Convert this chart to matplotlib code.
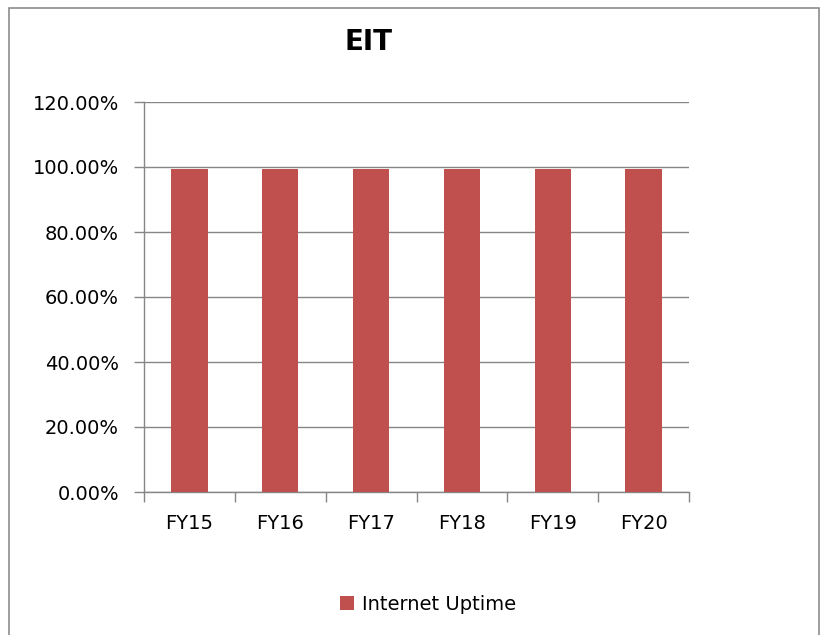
import matplotlib
matplotlib.use("Agg")
import matplotlib.pyplot as plt
from matplotlib.patches import Rectangle
from matplotlib.ticker import FixedLocator, PercentFormatter

categories = ["FY15", "FY16", "FY17", "FY18", "FY19", "FY20"]
uptime = [0.995, 0.995, 0.995, 0.995, 0.995, 0.995]
series_name = "Internet Uptime"
title = "EIT"

plt.rcParams["font.family"] = ["DejaVu Sans"]

bar_color = "#C0504D"
grid_color = "#868686"

fig = plt.figure(figsize=(8.22, 6.35), dpi=100)
fig.add_artist(Rectangle((9 / 822, -0.01), 810 / 822, 1 - 8 / 635 + 0.01,
                         transform=fig.transFigure, fill=False,
                         edgecolor="#8C8C8C", linewidth=1.2))

ax = fig.add_axes([144 / 822, 143 / 635, 545 / 822, 390 / 635])
x = list(range(len(categories)))
ax.bar(x, uptime, width=0.4, color=bar_color, zorder=3, label=series_name)

ax.set_xlim(-0.5, len(categories) - 0.5)
ax.set_ylim(0, 1.2)
ax.yaxis.set_major_locator(FixedLocator([0, 0.2, 0.4, 0.6, 0.8, 1.0, 1.2]))
ax.yaxis.set_major_formatter(PercentFormatter(1.0, decimals=2))
ax.grid(axis="y", color=grid_color, linewidth=1.0, zorder=0)

ax.set_xticks(x)
ax.set_xticklabels(categories)
ax.set_xticks([i - 0.5 for i in range(len(categories) + 1)], minor=True)
ax.tick_params(axis="x", which="major", length=0, pad=16, labelsize=14)
ax.tick_params(axis="x", which="minor", length=7, width=1.0, color=grid_color)
ax.tick_params(axis="y", length=7, width=1.0, color=grid_color, labelsize=14, pad=11)

for side in ("top", "right"):
    ax.spines[side].set_visible(False)
for side in ("left", "bottom"):
    ax.spines[side].set_color(grid_color)
    ax.spines[side].set_linewidth(1.0)

fig.text(368 / 822, 1 - 42 / 635, title, ha="center", va="center",
         fontsize=20, fontweight="bold")

fig.legend(loc="center", bbox_to_anchor=(428 / 822, 1 - 604 / 635),
           frameon=False, fontsize=14, handlelength=0.75, handleheight=0.75,
           handletextpad=0.4)

fig.savefig("out.png", dpi=100)
